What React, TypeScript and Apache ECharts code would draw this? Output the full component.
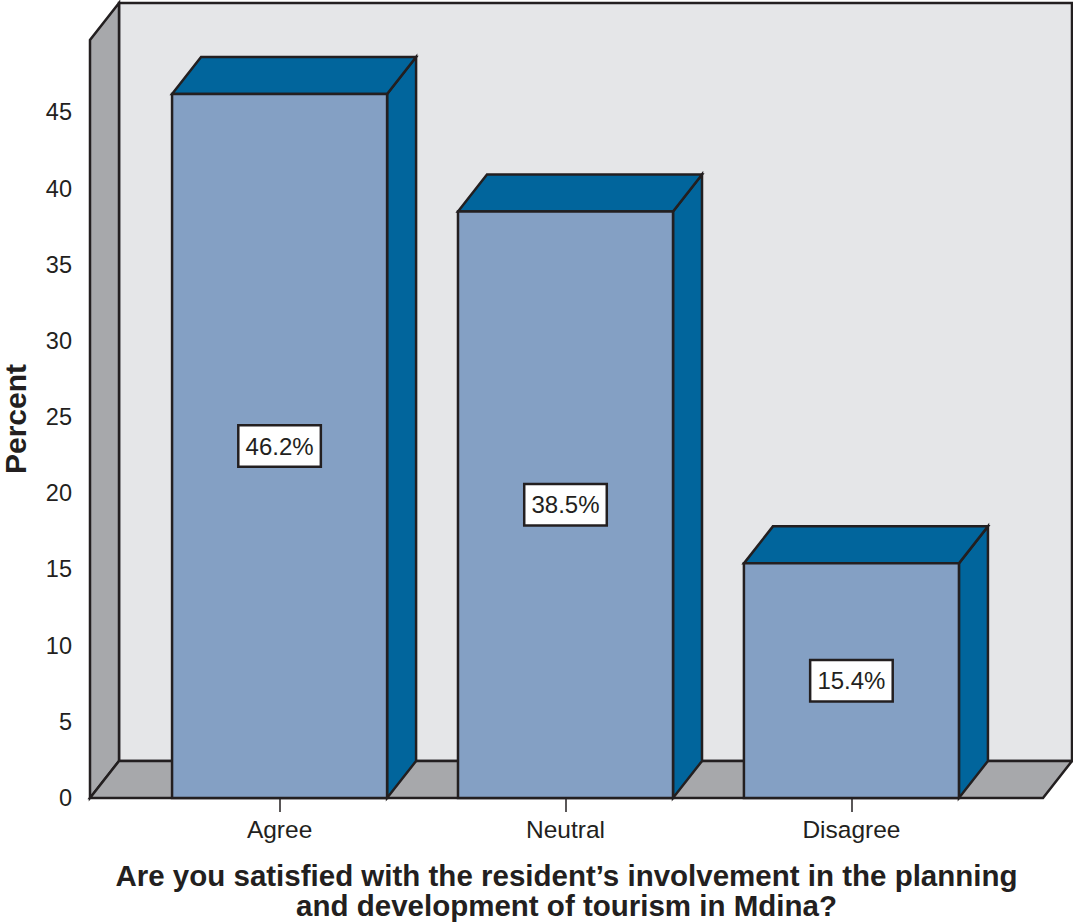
import React, { useEffect, useRef } from "react";
import * as echarts from "echarts";

// Survey answers and their shares (percent of respondents)
const categories = ["Agree", "Neutral", "Disagree"];
const percents = [46.2, 38.5, 15.4];
const yTickValues = [0, 5, 10, 15, 20, 25, 30, 35, 40, 45];
const categoryTicks = [0, 1, 2];
const xTitle =
  "Are you satisfied with the resident\u2019s involvement in the planning\nand development of tourism in Mdina?";
const yTitle = "Percent";

const FONT = '"Liberation Sans", Arial, Helvetica, sans-serif';
const INK = "#231f20";
const WALL_GREY = "#a7a8ab";
const BACK_WALL = "#e5e6e8";
const BAR_FRONT = "#84a0c4";
const BAR_DARK = "#01659c";
// oblique depth of the 3D box, in pixels
const DEPTH_X = 29;
const DEPTH_Y = -37;
// bar width in category units
const BAR_WIDTH = 0.752;
const EDGE = 2.5;

export default function App() {
  const ref = useRef<HTMLDivElement>(null);

  useEffect(() => {
    document.body.style.margin = "0";
    const chart = echarts.init(ref.current!, null, { renderer: "svg" });

    const edgeStyle = { stroke: INK, lineWidth: EDGE, lineJoin: "miter" as const };

    chart.setOption({
      animation: false,
      backgroundColor: "#ffffff",
      grid: { left: 90, right: 30, top: 40, bottom: 124, outerBoundsMode: "none" },
      xAxis: {
        type: "value",
        min: -0.663,
        max: 2.67,
        name: xTitle,
        nameLocation: "middle",
        nameGap: 62,
        nameTextStyle: {
          fontSize: 29.5,
          fontWeight: "bold",
          color: INK,
          fontFamily: FONT,
          lineHeight: 30,
          align: "center",
        },
        axisLine: { show: false },
        splitLine: { show: false },
        axisTick: {
          show: true,
          customValues: categoryTicks,
          length: 14,
          lineStyle: { color: INK, width: 1.5 },
        },
        axisLabel: {
          customValues: categoryTicks,
          formatter: (v: number) => categories[Math.round(v)] ?? "",
          margin: 19,
          fontSize: 24.5,
          color: INK,
          fontFamily: FONT,
        },
      },
      yAxis: {
        type: "value",
        min: 0,
        max: 49.75,
        interval: 5,
        name: yTitle,
        nameLocation: "middle",
        nameGap: 60,
        nameRotate: 90,
        nameTextStyle: {
          fontSize: 30,
          fontWeight: "bold",
          color: INK,
          fontFamily: FONT,
        },
        axisLine: { show: false },
        splitLine: { show: false },
        axisTick: {
          show: true,
          customValues: yTickValues,
          length: 13,
          lineStyle: { color: INK, width: 1.5 },
        },
        axisLabel: {
          customValues: yTickValues,
          margin: 18,
          fontSize: 23.5,
          color: INK,
          fontFamily: FONT,
        },
      },
      series: [
        {
          // back wall, side wall and floor of the 3D box
          type: "custom",
          silent: true,
          clip: false,
          data: [[0, 0]],
          renderItem: (params: any) => {
            const cs = params.coordSys;
            const x0 = cs.x;
            const x1 = cs.x + cs.width;
            const yTop = cs.y;
            const yBot = cs.y + cs.height;
            return {
              type: "group",
              children: [
                {
                  type: "rect",
                  shape: { x: x0 + DEPTH_X, y: yTop + DEPTH_Y, width: cs.width, height: cs.height },
                  style: { fill: BACK_WALL, ...edgeStyle },
                },
                {
                  type: "polygon",
                  shape: {
                    points: [
                      [x0, yBot],
                      [x0, yTop],
                      [x0 + DEPTH_X, yTop + DEPTH_Y],
                      [x0 + DEPTH_X, yBot + DEPTH_Y],
                    ],
                  },
                  style: { fill: WALL_GREY, ...edgeStyle },
                },
                {
                  type: "polygon",
                  shape: {
                    points: [
                      [x0, yBot],
                      [x0 + DEPTH_X, yBot + DEPTH_Y],
                      [x1 + DEPTH_X, yBot + DEPTH_Y],
                      [x1, yBot],
                    ],
                  },
                  style: { fill: WALL_GREY, ...edgeStyle },
                },
              ],
            };
          },
        },
        {
          // 3D bars with value boxes on their front faces
          type: "custom",
          clip: false,
          data: percents.map((p, i) => [i, p]),
          renderItem: (_params: any, api: any) => {
            const i = api.value(0);
            const v = api.value(1);
            const [xl, yt] = api.coord([i - BAR_WIDTH / 2, v]);
            const [xr, yb] = api.coord([i + BAR_WIDTH / 2, 0]);
            return {
              type: "group",
              children: [
                {
                  type: "polygon",
                  shape: {
                    points: [
                      [xr, yt],
                      [xr + DEPTH_X, yt + DEPTH_Y],
                      [xr + DEPTH_X, yb + DEPTH_Y],
                      [xr, yb],
                    ],
                  },
                  style: { fill: BAR_DARK, ...edgeStyle },
                },
                {
                  type: "polygon",
                  shape: {
                    points: [
                      [xl, yt],
                      [xl + DEPTH_X, yt + DEPTH_Y],
                      [xr + DEPTH_X, yt + DEPTH_Y],
                      [xr, yt],
                    ],
                  },
                  style: { fill: BAR_DARK, ...edgeStyle },
                },
                {
                  type: "rect",
                  shape: { x: xl, y: yt, width: xr - xl, height: yb - yt },
                  style: { fill: BAR_FRONT, ...edgeStyle },
                },
                {
                  type: "text",
                  x: (xl + xr) / 2,
                  y: (yt + yb) / 2,
                  style: {
                    text: v.toFixed(1) + "%",
                    fill: INK,
                    fontSize: 24,
                    fontFamily: FONT,
                    align: "center",
                    verticalAlign: "middle",
                    backgroundColor: "#ffffff",
                    borderColor: INK,
                    borderWidth: 2.5,
                    padding: [8, 6, 7, 6],
                  },
                },
              ],
            };
          },
        },
      ],
    });

    return () => chart.dispose();
  }, []);

  return <div ref={ref} style={{ width: 1073, height: 922 }} />;
}
